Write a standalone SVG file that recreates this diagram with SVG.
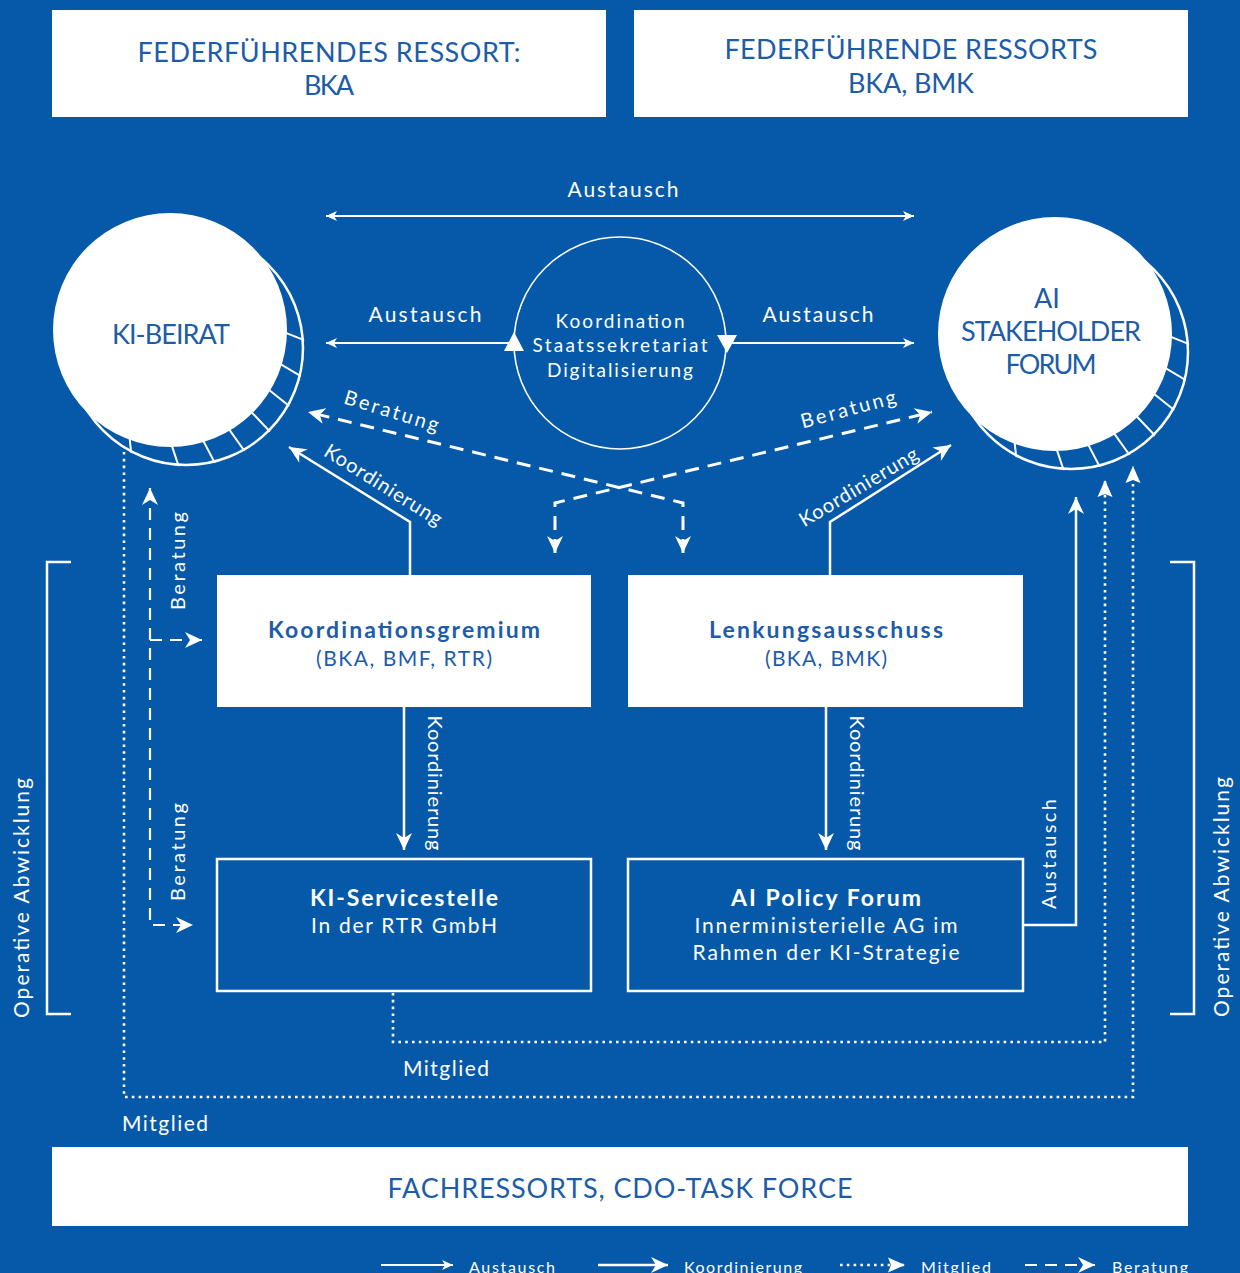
<svg xmlns="http://www.w3.org/2000/svg" xmlns:xlink="http://www.w3.org/1999/xlink" width="1240" height="1273" viewBox="0 0 1240 1273">
<style>
text{font-family:Lato,"Open Sans","Liberation Sans",sans-serif;dominant-baseline:central;text-anchor:middle}
.box{fill:#fff}
.obox{fill:none;stroke:#fff;stroke-width:2.5}
.dk{fill:#1d5ca8}
.wt{fill:#fff}
.cap{font-size:27px}
.lbl{font-size:21px}
.sm{font-size:19px}
.b{font-weight:bold}
.aus{fill:none;stroke:#fff;stroke-width:2.2}
.koo{fill:none;stroke:#fff;stroke-width:2.5}
.ber{fill:none;stroke:#fff;stroke-width:3;stroke-dasharray:14 9}
.berv{fill:none;stroke:#fff;stroke-width:2.2;stroke-dasharray:12 8}
.mit{fill:none;stroke:#fff;stroke-width:2.6;stroke-dasharray:2.6 4.2}
.brk{fill:none;stroke:#fff;stroke-width:2.5}
</style>
<defs>
<marker id="mA" viewBox="-12 -6 12 12" markerWidth="12" markerHeight="12" refX="0" refY="0" orient="auto-start-reverse" markerUnits="userSpaceOnUse"><path d="M0,0 L-11,-5 L-8,0 L-11,5 Z" fill="#fff"/></marker>
<marker id="mK" viewBox="-18 -9 18 18" markerWidth="18" markerHeight="18" refX="0" refY="0" orient="auto-start-reverse" markerUnits="userSpaceOnUse"><path d="M0,0 L-17,-8 L-12,0 L-17,8 Z" fill="#fff"/></marker>
<marker id="mB" viewBox="-18 -9 18 18" markerWidth="18" markerHeight="18" refX="0" refY="0" orient="auto-start-reverse" markerUnits="userSpaceOnUse"><path d="M0,0 L-17,-8 L-12,0 L-17,8 Z" fill="#fff"/></marker>
<marker id="mM" viewBox="-18 -9 18 18" markerWidth="18" markerHeight="18" refX="0" refY="0" orient="auto-start-reverse" markerUnits="userSpaceOnUse"><path d="M0,0 L-17,-7.5 L-14,0 L-17,7.5 Z" fill="#fff"/></marker>
<clipPath id="clipOuter"><circle cx="186" cy="348" r="118.5"/></clipPath>
<g id="coin">
<circle cx="186" cy="348" r="117" fill="none" stroke="#fff" stroke-width="2.5"/>
<g clip-path="url(#clipOuter)" stroke="#fff" stroke-width="2">
<line x1="269.9" y1="326.5" x2="312.9" y2="343.6"/>
<line x1="266.6" y1="355.9" x2="308.7" y2="380.9"/>
<line x1="256.6" y1="380" x2="296" y2="411.5"/>
<line x1="240.7" y1="400.7" x2="275.8" y2="437.8"/>
<line x1="220" y1="416.6" x2="249.5" y2="458"/>
<line x1="195.9" y1="426.6" x2="218.9" y2="470.7"/>
<line x1="166.5" y1="429.9" x2="181.6" y2="474.9"/>
<line x1="127.7" y1="420.6" x2="132.3" y2="463.1"/>
</g>
<circle cx="170" cy="330" r="117" fill="#fff"/>
</g>
</defs>
<rect x="0" y="0" width="1240" height="1273" fill="#0559a8"/>

<g id="node-ressort-bka">
<rect class="box" x="52" y="10" width="554" height="107"/>
<text class="dk cap" x="329" y="51" textLength="383" lengthAdjust="spacing">FEDERFÜHRENDES RESSORT:</text>
<text class="dk cap" x="329" y="84" textLength="50" lengthAdjust="spacing">BKA</text>
</g>
<g id="node-ressorts-bka-bmk">
<rect class="box" x="634" y="10" width="554" height="107"/>
<text class="dk cap" x="911" y="48" textLength="373" lengthAdjust="spacing">FEDERFÜHRENDE RESSORTS</text>
<text class="dk cap" x="911" y="82" textLength="126" lengthAdjust="spacing">BKA, BMK</text>
</g>

<g id="node-ki-beirat">
<use href="#coin"/>
<text class="dk" x="171" y="333" font-size="27" textLength="118" lengthAdjust="spacing">KI-BEIRAT</text>
</g>
<g id="node-ai-stakeholder-forum">
<use href="#coin" transform="translate(885,4)"/>
<text class="dk" x="1047" y="297" font-size="27">AI</text>
<text class="dk" x="1051" y="330" font-size="27" textLength="180" lengthAdjust="spacing">STAKEHOLDER</text>
<text class="dk" x="1051" y="363" font-size="27" textLength="91" lengthAdjust="spacing">FORUM</text>
</g>
<g id="node-koordination">
<circle cx="620" cy="343" r="106" fill="none" stroke="#fff" stroke-width="1.6"/>
<text class="wt sm" x="620" y="320" textLength="129" lengthAdjust="spacing">Koordination</text>
<text class="wt sm" x="620" y="344" textLength="175" lengthAdjust="spacing">Staatssekretariat</text>
<text class="wt sm" x="620" y="369" textLength="146" lengthAdjust="spacing">Digitalisierung</text>
</g>

<g id="node-koordinationsgremium">
<rect class="box" x="217" y="575" width="374" height="132"/>
<text class="dk b" x="404" y="629" font-size="23" textLength="272" lengthAdjust="spacing">Koordinationsgremium</text>
<text class="dk" x="404" y="657" font-size="21" textLength="176" lengthAdjust="spacing">(BKA, BMF, RTR)</text>
</g>
<g id="node-lenkungsausschuss">
<rect class="box" x="628" y="575" width="395" height="132"/>
<text class="dk b" x="826" y="629" font-size="23" textLength="234" lengthAdjust="spacing">Lenkungsausschuss</text>
<text class="dk" x="826" y="657" font-size="21" textLength="122" lengthAdjust="spacing">(BKA, BMK)</text>
</g>
<g id="node-ki-servicestelle">
<rect class="obox" x="217" y="859" width="374" height="132"/>
<text class="wt b" x="404" y="897" font-size="23" textLength="188" lengthAdjust="spacing">KI-Servicestelle</text>
<text class="wt" x="404" y="924" font-size="21" textLength="186" lengthAdjust="spacing">In der RTR GmbH</text>
</g>
<g id="node-ai-policy-forum">
<rect class="obox" x="628" y="859" width="395" height="132"/>
<text class="wt b" x="826" y="897" font-size="23" textLength="190" lengthAdjust="spacing">AI Policy Forum</text>
<text class="wt" x="826" y="924" font-size="21" textLength="263" lengthAdjust="spacing">Innerministerielle AG im</text>
<text class="wt" x="826" y="951" font-size="21" textLength="267" lengthAdjust="spacing">Rahmen der KI-Strategie</text>
</g>
<g id="node-fachressorts">
<rect class="box" x="52" y="1147" width="1136" height="79"/>
<text class="dk cap" x="620" y="1187" textLength="465" lengthAdjust="spacing">FACHRESSORTS, CDO-TASK FORCE</text>
</g>

<g id="connectors">
<path class="aus" d="M326,216 L914,216" marker-start="url(#mA)" marker-end="url(#mA)"/>
<path class="aus" d="M513,343 L326,343" marker-end="url(#mA)"/>
<path class="aus" d="M727,343 L914,343" marker-end="url(#mA)"/>
<polygon points="514,332 504,351 524,351" fill="#fff"/>
<polygon points="717,335 737,335 727,353" fill="#fff"/>
<path class="ber" d="M683,553 L683,503 L308,412" marker-start="url(#mB)" marker-end="url(#mB)"/>
<path class="ber" d="M555,553 L555,503 L932,412" marker-start="url(#mB)" marker-end="url(#mB)"/>
<path class="koo" d="M410,575 L410,522 L289,447" marker-end="url(#mK)"/>
<path class="koo" d="M830,575 L830,522 L951,445" marker-end="url(#mK)"/>
<path class="koo" d="M404,707 L404,850" marker-end="url(#mK)"/>
<path class="koo" d="M826,707 L826,850" marker-end="url(#mK)"/>
<path class="berv" d="M150,488 L150,925 L193,925" marker-start="url(#mB)" marker-end="url(#mB)"/>
<path class="berv" d="M150,640 L202,640" marker-end="url(#mB)"/>
<path class="koo" d="M1024,925 L1076,925 L1076,497" marker-end="url(#mK)"/>
<path class="mit" d="M124,452 L124,1097 L1133,1097 L1133,466" marker-end="url(#mM)"/>
<path class="mit" d="M393,993 L393,1042 L1105,1042 L1105,480" marker-end="url(#mM)"/>
</g>

<g id="connector-labels">
<text class="wt lbl" x="623" y="188" textLength="111" lengthAdjust="spacing">Austausch</text>
<text class="wt lbl" x="425" y="313" textLength="113" lengthAdjust="spacing">Austausch</text>
<text class="wt lbl" x="818" y="313" textLength="111" lengthAdjust="spacing">Austausch</text>
<text class="wt" font-size="20" transform="translate(392,410) rotate(17)" textLength="98" lengthAdjust="spacing">Beratung</text>
<text class="wt" font-size="20" transform="translate(848,408) rotate(-15)" textLength="98" lengthAdjust="spacing">Beratung</text>
<text class="wt" font-size="20" transform="translate(384,484) rotate(32)" textLength="135" lengthAdjust="spacing">Koordinierung</text>
<text class="wt" font-size="20" transform="translate(858,486) rotate(-31)" textLength="135" lengthAdjust="spacing">Koordinierung</text>
<text class="wt" font-size="20" transform="translate(436,783) rotate(90)" textLength="135" lengthAdjust="spacing">Koordinierung</text>
<text class="wt" font-size="20" transform="translate(858,783) rotate(90)" textLength="135" lengthAdjust="spacing">Koordinierung</text>
<text class="wt" font-size="20" transform="translate(177,561) rotate(-90)" textLength="98" lengthAdjust="spacing">Beratung</text>
<text class="wt" font-size="20" transform="translate(177,852) rotate(-90)" textLength="98" lengthAdjust="spacing">Beratung</text>
<text class="wt" font-size="20" transform="translate(1048,854) rotate(-90)" textLength="110" lengthAdjust="spacing">Austausch</text>
<text class="wt" font-size="21" x="165" y="1122" textLength="86" lengthAdjust="spacing">Mitglied</text>
<text class="wt" font-size="21" x="446" y="1067" textLength="86" lengthAdjust="spacing">Mitglied</text>
</g>

<g id="brackets">
<path class="brk" d="M71,562 L47,562 L47,1014 L71,1014"/>
<path class="brk" d="M1170,562 L1194,562 L1194,1014 L1170,1014"/>
<text class="wt" font-size="21" transform="translate(20,898) rotate(-90)" textLength="240" lengthAdjust="spacing">Operative Abwicklung</text>
<text class="wt" font-size="21" transform="translate(1220,897) rotate(-90)" textLength="240" lengthAdjust="spacing">Operative Abwicklung</text>
</g>

<g id="legend">
<path class="aus" d="M381,1265 L453,1265" marker-end="url(#mA)"/>
<path class="koo" d="M598,1265 L668,1265" marker-end="url(#mK)"/>
<path class="mit" d="M840,1265 L905,1265" stroke-width="2" marker-end="url(#mM)"/>
<path class="berv" d="M1025,1265 L1095,1265" marker-end="url(#mB)"/>
<text class="wt" font-size="16" x="512" y="1266" textLength="86" lengthAdjust="spacing">Austausch</text>
<text class="wt" font-size="16" x="743" y="1266" textLength="118" lengthAdjust="spacing">Koordinierung</text>
<text class="wt" font-size="16" x="956" y="1266" textLength="70" lengthAdjust="spacing">Mitglied</text>
<text class="wt" font-size="16" x="1150" y="1266" textLength="76" lengthAdjust="spacing">Beratung</text>
</g>
</svg>
